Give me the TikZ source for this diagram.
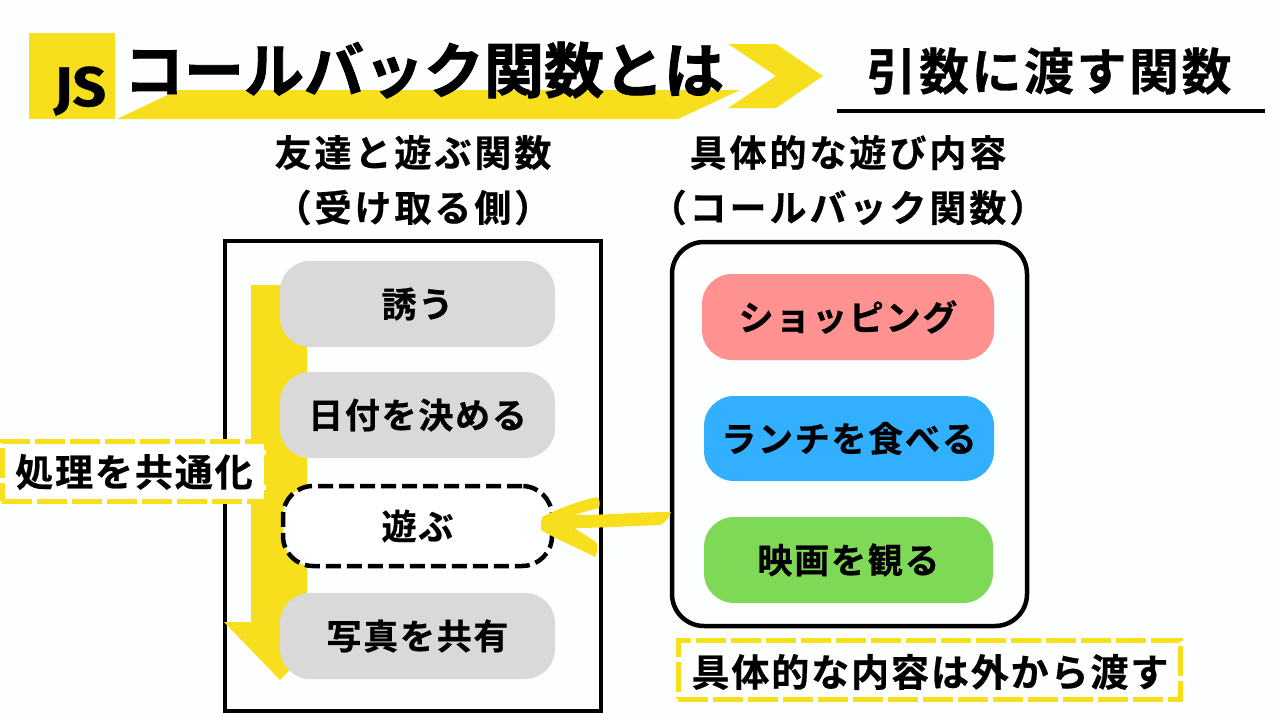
\documentclass[tikz,border=0pt]{standalone}
\usepackage{fontspec}
\setmainfont[BoldFont={Noto Sans CJK JP Bold}]{Noto Sans CJK JP}
\newfontfamily\jsfont[FakeBold=0.5]{Fira Sans Bold}
\newfontfamily\heavy[FakeBold=1.5]{Noto Sans CJK JP Bold}
\newcommand{\txt}[2]{\bfseries\fontsize{#1}{#1}\selectfont\addfontfeature{LetterSpace=#2,FakeBold=0.6}}
\definecolor{bgc}{HTML}{FCFFFE}
\definecolor{jsy}{HTML}{F7DF1E}
\definecolor{gry}{HTML}{D9D9D9}
\definecolor{pinkb}{HTML}{FF9191}
\definecolor{blueb}{HTML}{33AFFF}
\definecolor{greenb}{HTML}{7ED957}
\tikzset{
  x=1pt,y=-1pt,
  tag/.style={inner sep=0pt,outer sep=0pt,text=black,font=\txt{35}{5}},
  heading/.style={inner sep=0pt,outer sep=0pt,text=black,font=\txt{37}{8}},
  pill/.style={tag,rounded corners=30pt,minimum height=86pt},
  frameline/.style={draw=black,line width=4.5pt,fill=none,inner sep=0pt},
  notebox/.style={draw=jsy,line width=5pt,dash pattern=on 30pt off 5pt,inner sep=0pt,outer sep=0pt},
}
\begin{document}
\begin{tikzpicture}
\useasboundingbox (0,0) rectangle (1280,720);
\fill[bgc] (0,0) rectangle (1280,720);
% header
\fill[jsy] (29,33) rectangle (115,119);
\fill[jsy] (117,119) -- (178,90) -- (740,90) -- (678,119) -- cycle;
\fill[jsy] (728,44) -- (776,44) -- (823,76) -- (776,108) -- (728,108) -- (776,76) -- cycle;
\node[inner sep=0pt,font=\jsfont\fontsize{56}{56}\selectfont,xscale=1.05] (js) at (80,91) {JS};
\node[inner sep=0pt,font=\heavy\fontsize{60}{60}\selectfont] (title) at (424,70) {コールバック関数とは};
\node[heading,font=\txt{50}{5}] (sub) at (1049,71) {引数に渡す関数};
\coordinate (ula) at (837,111);
\coordinate (ulb) at (1265,111);
\draw[line width=3.5pt] (ula) -- (ulb);
% headings
\node[heading] (h1) at (413,152.5) {友達と遊ぶ関数};
\node[heading] (h2) at (413,207.5) {（受け取る側）};
\node[heading] (h3) at (848,152.5) {具体的な遊び内容};
\node[heading] (h4) at (848,207.5) {（コールバック関数）};
% left frame
\node[frameline,minimum width=376pt,minimum height=470pt] (lf) at (413,476) {};
% yellow down arrow
\fill[jsy] (251,285) -- (307,285) -- (307,622) -- (336,622) -- (280,680) -- (224,622) -- (251,622) -- cycle;
\node[pill,fill=gry,minimum width=275pt] (a1) at (417.5,304) {誘う};
\node[pill,fill=gry,minimum width=275pt] (a2) at (417.5,415) {日付を決める};
\node[pill,fill=white,draw=black,line width=4.5pt,dash pattern=on 15pt off 6pt,minimum width=269pt,minimum height=80pt] (a3) at (417.5,526) {遊ぶ};
\node[pill,fill=gry,minimum width=275pt] (a4) at (417.5,636) {写真を共有};
% right frame
\node[frameline,rounded corners=32pt,minimum width=355pt,minimum height=384pt] (rf) at (849.5,434) {};
\node[pill,fill=pinkb,minimum width=292pt] (b1) at (848,317) {ショッピング};
\node[pill,fill=blueb,minimum width=290pt,minimum height=85pt] (b2) at (849,438.5) {ランチを食べる};
\node[pill,fill=greenb,minimum width=289pt] (b3) at (848.5,560) {映画を観る};
% hand-drawn arrow
\fill[jsy] (671,512) .. controls (640,512) and (610,515) .. (575,515)
  .. controls (583,512) and (590,510) .. (599,508)
  .. controls (600,504) and (600,499) .. (597,497)
  .. controls (578,501) and (558,509) .. (542,517)
  .. controls (541,522) and (541,526) .. (541,530)
  .. controls (558,540) and (578,548) .. (595,557)
  .. controls (598,552) and (598,546) .. (596,542)
  .. controls (590,538) and (582,533) .. (574,528)
  .. controls (600,528) and (630,526) .. (660,525)
  .. controls (665,523) and (668,518) .. (671,512) -- cycle;
% notes
\node[notebox,fill=white,minimum width=264pt,minimum height=60pt] (n1) at (134,471) {};
\node[tag,font=\txt{38}{5}] (n1t) at (134,472) {処理を共通化};
\node[notebox,minimum width=502pt,minimum height=59pt] (n2) at (929,669.5) {};
\node[tag,font=\txt{38}{5}] (n2t) at (930,672) {具体的な内容は外から渡す};
\end{tikzpicture}
\end{document}
